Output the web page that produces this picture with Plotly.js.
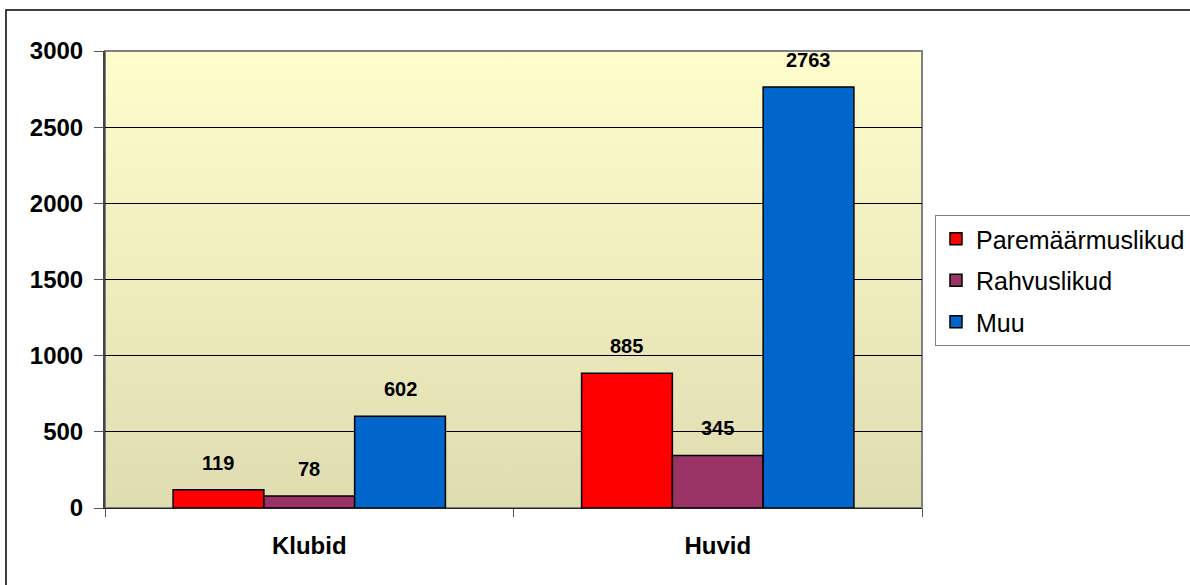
<!DOCTYPE html>
<html>
<head>
<meta charset="utf-8">
<script src="https://cdn.plot.ly/plotly-3.0.1.min.js"></script>
<style>html,body{margin:0;padding:0;background:#fff;overflow:hidden;width:1190px;height:585px;}#chart{width:1240px;height:585px;}</style>
</head>
<body>
<div id="chart"></div>
<script>
const categories = ["Klubid", "Huvid"];
const seriesNames = ["Paremäärmuslikud", "Rahvuslikud", "Muu"];
const paremaarmuslikud = [119, 885];
const rahvuslikud = [78, 345];
const muu = [602, 2763];
const seriesColors = ["#FF0000", "#993366", "#0066CC"];
const yTickVals = [0, 500, 1000, 1500, 2000, 2500, 3000];

const FONT = "Liberation Sans, Arial, sans-serif";
const seriesValues = [paremaarmuslikud, rahvuslikud, muu];
const BARGAP = 1/3;

const traces = seriesValues.map((vals, s) => ({
  type: "bar",
  name: seriesNames[s],
  x: categories,
  y: vals,
  legendgroup: "g" + s,
  marker: {color: seriesColors[s], line: {color: "#000", width: 1.5}},
  hoverinfo: "x+y+name"
}));

const barW = (1 - BARGAP) / seriesValues.length;
const annotations = [];
seriesValues.forEach((vals, s) => {
  vals.forEach((v, i) => {
    annotations.push({
      x: i + (s - (seriesValues.length - 1) / 2) * barW,
      y: v, xref: "x", yref: "y",
      text: String(v), showarrow: false,
      yanchor: "middle", yshift: 27,
      font: {family: FONT, size: 20, color: "#000", weight: "bold"}
    });
  });
});

const gradSvg = '<svg xmlns="http://www.w3.org/2000/svg" width="100" height="100" preserveAspectRatio="none">' +
  '<defs><linearGradient id="g" x1="0" y1="0" x2="0" y2="1">' +
  '<stop offset="0" stop-color="#FFFDCC"/><stop offset="1" stop-color="#DFDDB0"/>' +
  '</linearGradient></defs><rect width="100" height="100" fill="url(#g)"/></svg>';

const layout = {
  width: 1240, height: 585,
  margin: {l: 105, r: 318, t: 51, b: 77},
  paper_bgcolor: "#fff",
  plot_bgcolor: "rgba(0,0,0,0)",
  barmode: "group",
  bargap: BARGAP,
  bargroupgap: 0,
  showlegend: true,
  legend: {
    x: 1.0159, y: 0.6411, xanchor: "left", yanchor: "top",
    bgcolor: "#fff", bordercolor: "#808080", borderwidth: 1,
    font: {family: FONT, size: 25, color: "#000"},
    traceorder: "grouped", tracegroupgap: 6
  },
  xaxis: {
    type: "category",
    showgrid: false,
    showline: true, linecolor: "#222", linewidth: 1,
    ticks: "outside", tickson: "boundaries", ticklen: 8, tickcolor: "#555",
    ticklabelstandoff: 16,
    tickfont: {family: FONT, size: 24, color: "#000", weight: "bold"},
    fixedrange: true
  },
  yaxis: {
    range: [0, 3000],
    tickvals: yTickVals,
    showgrid: true, gridcolor: "#000", gridwidth: 1,
    zeroline: false,
    showline: true, linecolor: "#444", linewidth: 2,
    ticks: "outside", ticklen: 9, tickcolor: "#555",
    ticklabelstandoff: 6,
    tickfont: {family: FONT, size: 24, color: "#000", weight: "bold"},
    fixedrange: true
  },
  images: [{
    source: "data:image/svg+xml;charset=utf-8," + encodeURIComponent(gradSvg),
    xref: "paper", yref: "paper", x: 0, y: 1, sizex: 1, sizey: 1,
    xanchor: "left", yanchor: "top", sizing: "stretch", layer: "below"
  }],
  shapes: [
    {type: "rect", xref: "paper", yref: "paper", x0: 0, x1: 1, y0: 0, y1: 1,
     line: {color: "#808080", width: 2}, fillcolor: "rgba(0,0,0,0)", layer: "below"},
    {type: "rect", xref: "paper", yref: "paper", x0: -0.1212, x1: 1.6, y0: -0.6, y1: 1.0897,
     line: {color: "#000", width: 1.5}, fillcolor: "rgba(0,0,0,0)", layer: "above"}
  ],
  annotations: annotations
};

Plotly.newPlot("chart", traces, layout, {displayModeBar: false, staticPlot: true});
</script>
</body>
</html>
